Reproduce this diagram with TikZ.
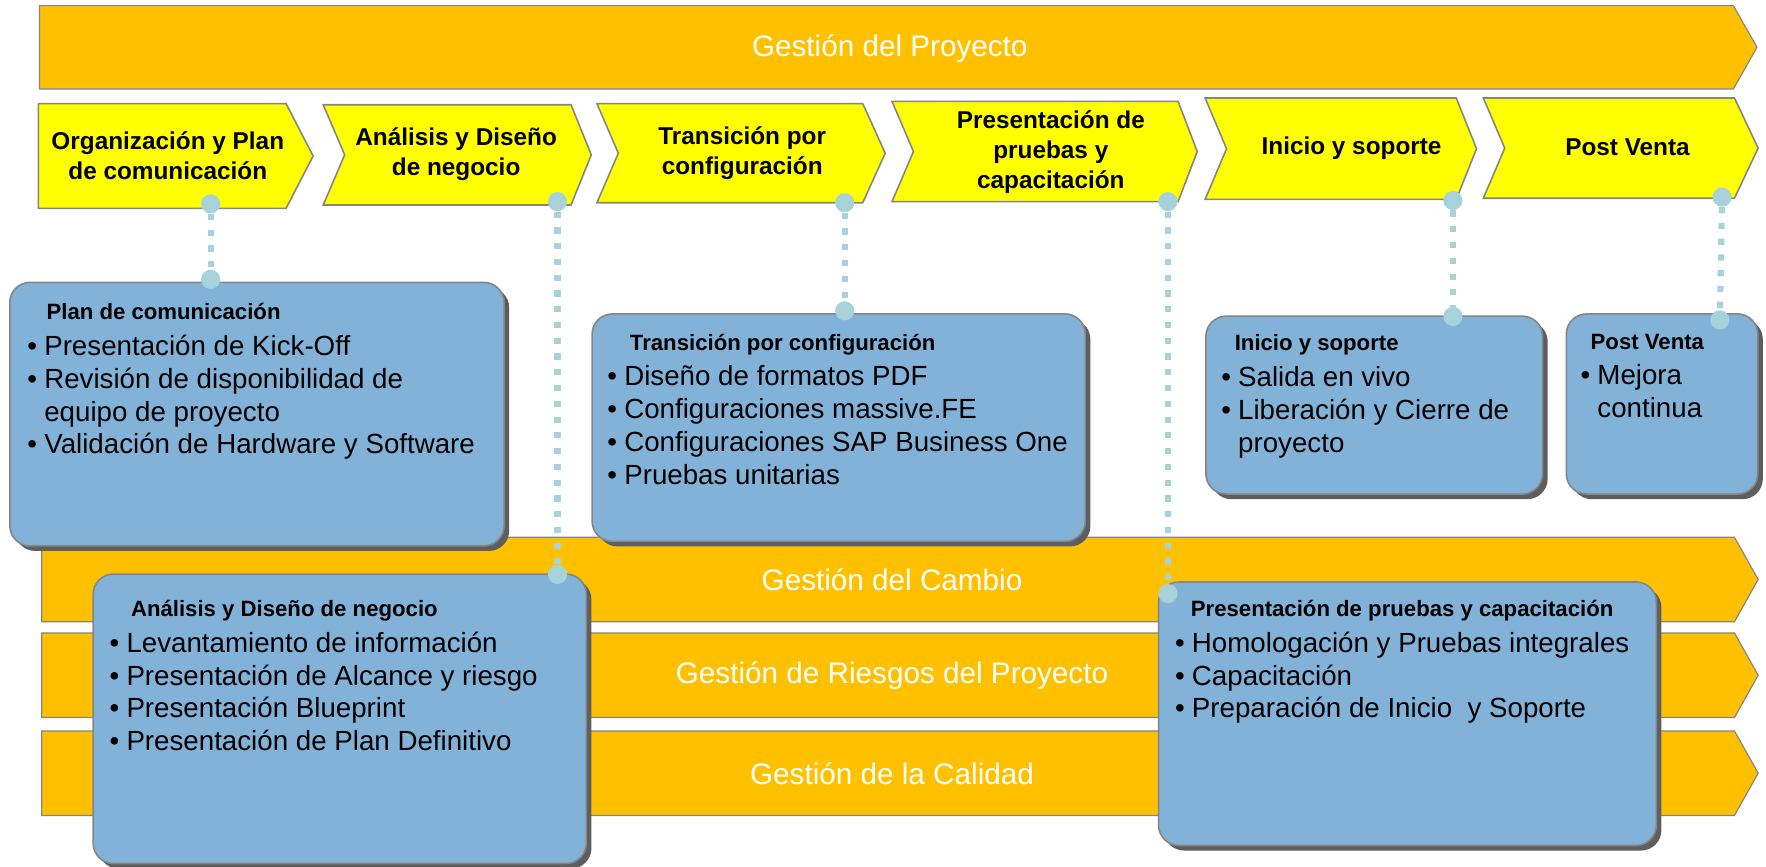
\documentclass[tikz,border=0pt]{standalone}
\usepackage{fontspec}
\setmainfont{Liberation Sans}
\usepackage{tikz}
\usetikzlibrary{positioning,shadows}

\definecolor{naranja}{HTML}{FFC000}
\definecolor{amarillo}{HTML}{FFFF00}
\definecolor{azulcaja}{HTML}{82B2D8}
\definecolor{celeste}{HTML}{A8D2DA}
\definecolor{borde}{HTML}{858585}
\definecolor{sombra}{HTML}{5E5E5E}

\newcommand{\encab}[2]{\hspace*{#1}{\bfseries\fontsize{11.2}{13}\selectfont #2}\\[1.5pt]}
\newcommand{\vin}{\makebox[0.3cm][l]{\textbullet}}
\newcommand{\sang}{\hspace*{0.3cm}}

\begin{document}
\begin{tikzpicture}[x=0.02cm,y=-0.02cm,
  banda/.style={fill=naranja,draw=borde,line width=0.6pt},
  fase/.style={fill=amarillo,draw=borde,line width=0.8pt},
  caja/.style={anchor=north west,fill=azulcaja,draw=borde,line width=0.8pt,rounded corners=0.36cm,inner sep=0pt,
    drop shadow={shadow xshift=0.09cm,shadow yshift=-0.09cm,fill=sombra,opacity=1}},
  punto/.style={circle,fill=celeste,inner sep=0pt,minimum size=0.34cm},
  enlace/.style={draw=celeste,line width=0.11cm,dash pattern=on 0.11cm off 0.17cm},
  txtbanda/.style={text=white,font=\fontsize{15}{18}\selectfont},
  txtfase/.style={align=center,font=\bfseries\fontsize{12.3}{15.2}\selectfont},
  txtcaja/.style={anchor=north west,align=left,inner sep=0pt,font=\fontsize{14}{16.6}\selectfont}]
\useasboundingbox (0,0) rectangle (1568,769);

% gestion del proyecto
\draw[banda] (35,5) -- (1539,5) -- (1560,42) -- (1539,79) -- (35,79) -- cycle;
\node[txtbanda] (gproyecto) at (790,43) {Gestión del Proyecto};

% fases
\draw[fase] (34,92) -- (254,92) -- (278,138.5) -- (254,185) -- (34,185) -- cycle;
\node[txtfase] (f1) at (149,138) {Organización y Plan\\de comunicación};
\draw[fase] (287,93) -- (507,93) -- (525,137.5) -- (507,182) -- (287,182) -- (306,137.5) -- cycle;
\node[txtfase] (f2) at (405,137) {Análisis y Diseño\\de negocio};
\draw[fase] (530,92) -- (766,92) -- (786,136) -- (766,180) -- (530,180) -- (549,136) -- cycle;
\node[txtfase] (f3) at (659,136) {Transición por\\configuración};
\draw[fase] (792,90) -- (1046,90) -- (1063,134.5) -- (1046,179) -- (792,179) -- (811,134.5) -- cycle;
\node[txtfase] (f4) at (933,135) {Presentación de\\pruebas y\\capacitación};
\draw[fase] (1070,87) -- (1293,87) -- (1311,132) -- (1293,177) -- (1070,177) -- (1089,132) -- cycle;
\node[txtfase] (f5) at (1200,132) {Inicio y soporte};
\draw[fase] (1317,87) -- (1540,87) -- (1561,131.5) -- (1540,176) -- (1317,176) -- (1336,131.5) -- cycle;
\node[txtfase] (f6) at (1445,131) {Post Venta};

% gestiones transversales
\draw[banda] (37,477) -- (1540,477) -- (1561,514.5) -- (1540,552) -- (37,552) -- cycle;
\node[txtbanda] (gcambio) at (792,515) {Gestión del Cambio};
\draw[banda] (37,562) -- (1540,562) -- (1561,599.5) -- (1540,637) -- (37,637) -- cycle;
\node[txtbanda] (griesgos) at (792,600) {Gestión de Riesgos del Proyecto};
\draw[banda] (37,649) -- (1540,649) -- (1561,686.5) -- (1540,724) -- (37,724) -- cycle;
\node[txtbanda] (gcalidad) at (792,687) {Gestión de la Calidad};

% cajas
\node[caja,minimum width=8.78cm,minimum height=4.68cm] (plan) at (8,250) {};
\node[txtcaja] (plantxt) at ([xshift=0.32cm,yshift=-0.38cm]plan.north west) {\encab{0.34cm}{Plan de comunicación}
\vin Presentación de Kick-Off\\
\vin Revisión de disponibilidad de\\
\sang equipo de proyecto\\
\vin Validación de Hardware y Software};

\node[caja,minimum width=8.76cm,minimum height=5.14cm] (analisis) at (82,509) {};
\node[txtcaja] (analisistxt) at ([xshift=0.3cm,yshift=-0.47cm]analisis.north west) {\encab{0.38cm}{Análisis y Diseño de negocio}
\vin Levantamiento de información\\
\vin Presentación de Alcance y riesgo\\
\vin Presentación Blueprint\\
\vin Presentación de Plan Definitivo};

\node[caja,minimum width=8.76cm,minimum height=4.04cm] (transicion) at (525,278) {};
\node[txtcaja] (transiciontxt) at ([xshift=0.28cm,yshift=-0.36cm]transicion.north west) {\encab{0.4cm}{Transición por configuración}
\vin Diseño de formatos PDF\\
\vin Configuraciones massive.FE\\
\vin Configuraciones SAP Business One\\
\vin Pruebas unitarias};

\node[caja,minimum width=8.84cm,minimum height=4.68cm] (pruebas) at (1028,516) {};
\node[txtcaja] (pruebastxt) at ([xshift=0.3cm,yshift=-0.33cm]pruebas.north west) {\encab{0.28cm}{Presentación de pruebas y capacitación}
\vin Homologación y Pruebas integrales\\
\vin Capacitación\\
\vin Preparación de Inicio\ \ y Soporte};

\node[caja,minimum width=5.98cm,minimum height=3.16cm] (inicio) at (1070,280) {};
\node[txtcaja] (iniciotxt) at ([xshift=0.28cm,yshift=-0.34cm]inicio.north west) {\encab{0.24cm}{Inicio y soporte}
\vin Salida en vivo\\
\vin Liberación y Cierre de\\
\sang proyecto};

\node[caja,minimum width=3.4cm,minimum height=3.2cm] (post) at (1390,278) {};
\node[txtcaja] (posttxt) at ([xshift=0.26cm,yshift=-0.36cm]post.north west) {\encab{0.18cm}{Post Venta}
\vin Mejora\\
\sang continua};

% enlaces
\node[punto] (p1a) at (187,181) {};
\node[punto] (p1b) at (187,248) {};
\draw[enlace] (p1a) -- (p1b);
\node[punto] (p2a) at (495,179) {};
\node[punto] (p2b) at (495,510) {};
\draw[enlace] (p2a) -- (p2b);
\node[punto] (p3a) at (750,180) {};
\node[punto] (p3b) at (750,276) {};
\draw[enlace] (p3a) -- (p3b);
\node[punto] (p4a) at (1037,179) {};
\node[punto] (p4b) at (1037,527) {};
\draw[enlace] (p4a) -- (p4b);
\node[punto] (p5a) at (1290,178) {};
\node[punto] (p5b) at (1290,281) {};
\draw[enlace] (p5a) -- (p5b);
\node[punto] (p6a) at (1529,175) {};
\node[punto] (p6b) at (1527,284) {};
\draw[enlace] (p6a) -- (p6b);
\end{tikzpicture}
\end{document}
